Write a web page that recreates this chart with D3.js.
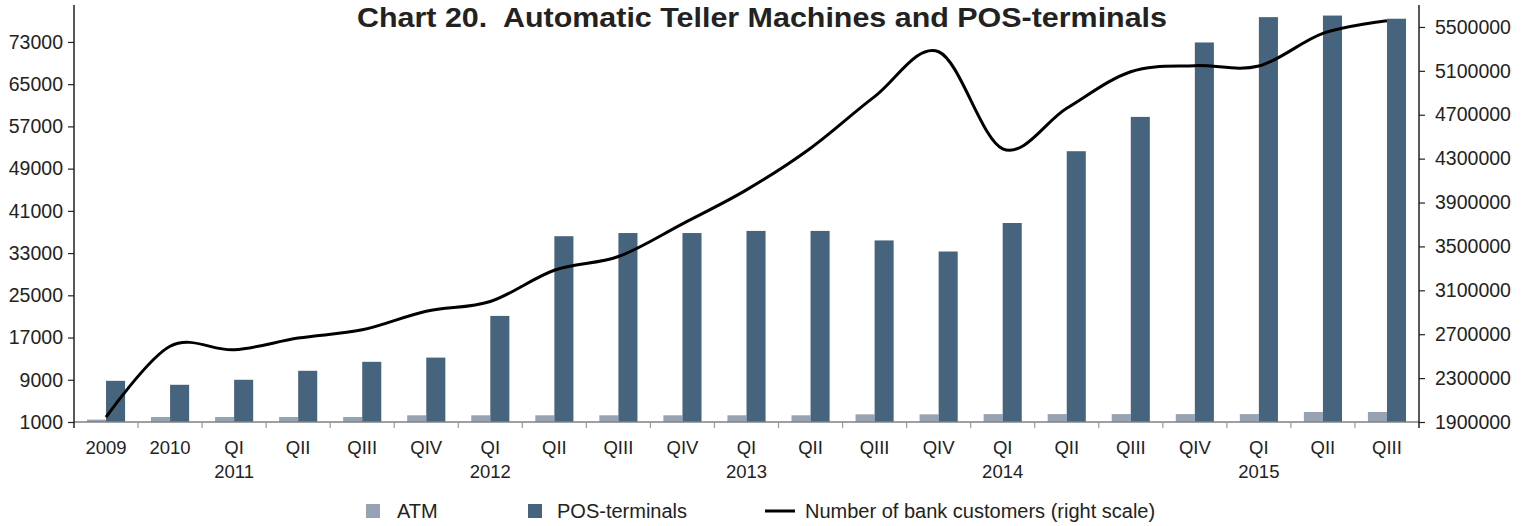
<!DOCTYPE html>
<html>
<head>
<meta charset="utf-8">
<script src="https://cdn.jsdelivr.net/npm/d3@7"></script>
<style>
  body { margin: 0; background: #fff; }
  text { font-family: "Liberation Sans", Arial, sans-serif; fill: #222; }
</style>
</head>
<body>
<div id="chart"></div>
<script>
// categories (first line / second line of the axis label)
const periods = ["2009","2010","QI","QII","QIII","QIV","QI","QII","QIII","QIV","QI","QII","QIII","QIV","QI","QII","QIII","QIV","QI","QII","QIII"];
const years   = ["","","2011","","","","2012","","","","2013","","","","2014","","","","2015","",""];

// series values
const atm = [1450,1950,1950,1950,1950,2270,2270,2270,2270,2270,2270,2270,2450,2450,2500,2500,2500,2500,2500,2900,2900];
const pos = [8800,8050,9000,10700,12400,13200,21100,36200,36800,36800,37200,37200,35400,33300,38700,52300,58800,72900,77700,78000,77400];
const customers = [1945000,2590000,2558000,2665000,2740000,2910000,2998000,3283000,3408000,3706000,4015000,4395000,4865000,5274000,4390000,4759000,5092000,5147000,5144000,5442000,5557000];

const leftTicks = d3.range(1000, 73001, 8000);
const rightTicks = d3.range(1900000, 5500001, 400000);

const width = 1527, height = 526;
const m = {left: 74, right: 1419, top: 5, bottom: 422};

const svg = d3.select("#chart").append("svg")
    .attr("width", width)
    .attr("height", height);

const idx = d3.range(periods.length);

const x = d3.scaleBand().domain(idx).range([m.left, m.right]).paddingInner(0).paddingOuter(0);
const xSub = d3.scaleBand().domain(["atm","pos"]).range([0, x.bandwidth()]).paddingInner(0).paddingOuter(0.68);
const yL = d3.scaleLinear().domain([1000, 80000]).range([m.bottom, m.top]);
const yR = d3.scaleLinear().domain([1900000, 5700000]).range([m.bottom, m.top]);

// bars
const g = svg.append("g");
g.selectAll(".atm").data(atm).enter().append("rect")
    .attr("x", (d,i) => x(i) + xSub("atm"))
    .attr("width", xSub.bandwidth())
    .attr("y", d => yL(d))
    .attr("height", d => yL(1000) - yL(d))
    .attr("fill", "#97a3b4");
g.selectAll(".pos").data(pos).enter().append("rect")
    .attr("x", (d,i) => x(i) + xSub("pos"))
    .attr("width", xSub.bandwidth())
    .attr("y", d => yL(d))
    .attr("height", d => yL(1000) - yL(d))
    .attr("fill", "#47647e");

// bottom axis
svg.append("line")
    .attr("x1", m.left).attr("x2", m.right)
    .attr("y1", m.bottom).attr("y2", m.bottom)
    .attr("stroke", "#808080").attr("stroke-width", 1.5);
svg.selectAll(".xtick").data(idx.slice(1)).enter().append("line")
    .attr("x1", i => x(i)).attr("x2", i => x(i))
    .attr("y1", m.bottom).attr("y2", m.bottom + 6)
    .attr("stroke", "#999").attr("stroke-width", 1.2);
svg.selectAll(".xlab").data(idx).enter().append("text")
    .attr("x", i => x(i) + x.bandwidth() / 2)
    .attr("y", 454)
    .attr("text-anchor", "middle")
    .attr("font-size", "18.5px")
    .text(i => periods[i]);
svg.selectAll(".ylab2").data(idx.filter(i => years[i])).enter().append("text")
    .attr("x", i => x(i) + x.bandwidth() / 2)
    .attr("y", 478)
    .attr("text-anchor", "middle")
    .attr("font-size", "18.5px")
    .text(i => years[i]);

// left axis
const axL = svg.append("g").attr("transform", "translate(" + m.left + ",0)")
    .call(d3.axisLeft(yL).tickValues(leftTicks).tickSize(6).tickPadding(5).tickFormat(d3.format("d")));
axL.select(".domain").attr("d", "M0," + m.top + "V" + (m.bottom + 6)).attr("stroke", "#222").attr("stroke-width", 1.5);
axL.selectAll(".tick line").attr("stroke", "#222").attr("stroke-width", 1.2);
axL.selectAll(".tick text").attr("font-size", "19.5px").attr("font-family", "Liberation Sans, Arial, sans-serif").attr("fill", "#222");

// right axis
const axR = svg.append("g").attr("transform", "translate(" + m.right + ",0)")
    .call(d3.axisRight(yR).tickValues(rightTicks).tickSize(6).tickPadding(10).tickFormat(d3.format("d")));
axR.select(".domain").attr("d", "M0," + m.top + "V" + (m.bottom + 6)).attr("stroke", "#222").attr("stroke-width", 1.5);
axR.selectAll(".tick line").attr("stroke", "#222").attr("stroke-width", 1.2);
axR.selectAll(".tick text").attr("font-size", "19.5px").attr("font-family", "Liberation Sans, Arial, sans-serif").attr("fill", "#222");

// customers line (right scale)
const line = d3.line()
    .x((d,i) => x(i) + x.bandwidth() / 2)
    .y(d => yR(d))
    .curve(d3.curveCatmullRom.alpha(0));
svg.append("path")
    .datum(customers)
    .attr("d", line)
    .attr("fill", "none")
    .attr("stroke", "#000")
    .attr("stroke-width", 3)
    .attr("stroke-linejoin", "round");

// title
svg.append("text")
    .attr("x", 762).attr("y", 27)
    .attr("text-anchor", "middle")
    .attr("font-size", "27.5px")
    .attr("font-weight", "bold")
    .attr("textLength", 810)
    .attr("lengthAdjust", "spacingAndGlyphs")
    .style("white-space", "pre")
    .text("Chart 20.  Automatic Teller Machines and POS-terminals");

// legend
const leg = svg.append("g");
leg.append("rect").attr("x", 366).attr("y", 504).attr("width", 14).attr("height", 14).attr("fill", "#97a3b4");
leg.append("text").attr("x", 397).attr("y", 518).attr("font-size", "20px").text("ATM");
leg.append("rect").attr("x", 528).attr("y", 504).attr("width", 14).attr("height", 14).attr("fill", "#47647e");
leg.append("text").attr("x", 557).attr("y", 518).attr("font-size", "20px").text("POS-terminals");
leg.append("line").attr("x1", 765).attr("x2", 795).attr("y1", 511).attr("y2", 511).attr("stroke", "#000").attr("stroke-width", 3);
leg.append("text").attr("x", 805).attr("y", 518).attr("font-size", "20px").text("Number of bank customers (right scale)");
</script>
</body>
</html>
